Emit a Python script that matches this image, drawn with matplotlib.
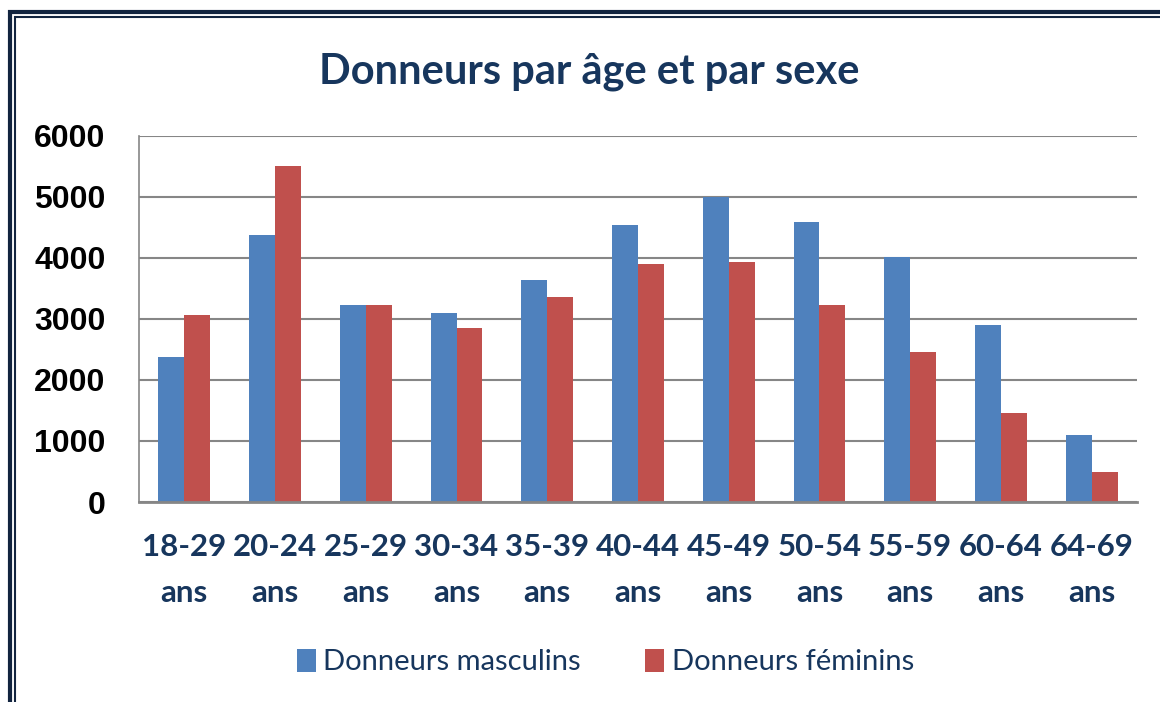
import matplotlib.pyplot as plt
import numpy as np
from matplotlib.patches import Rectangle

# données
categories = ['18-29\nans', '20-24\nans', '25-29\nans', '30-34\nans', '35-39\nans', '40-44\nans',
              '45-49\nans', '50-54\nans', '55-59\nans', '60-64\nans', '64-69\nans']
masculins = [2380, 4380, 3230, 3100, 3640, 4540, 5000, 4590, 4010, 2900, 1100]
feminins = [3070, 5510, 3230, 2850, 3360, 3900, 3930, 3230, 2460, 1460, 490]
yticks = [0, 1000, 2000, 3000, 4000, 5000, 6000]

navy = '#17365D'
blue = '#4F81BD'
red = '#C0504D'
grid_col = '#868686'

fig = plt.figure(figsize=(11.6, 7.02), dpi=100)
ax = fig.add_axes([0.1198, 0.2849, 0.8604, 0.5214])

x = np.arange(len(categories))
w = 0.286
ax.bar(x - w / 2, masculins, w, color=blue, label='Donneurs masculins', zorder=3)
ax.bar(x + w / 2, feminins, w, color=red, label='Donneurs féminins', zorder=3)

ax.set_xlim(-0.5, len(categories) - 0.5)
ax.set_ylim(0, 6000)
ax.set_yticks(yticks)
ax.set_yticklabels([str(v) for v in yticks], fontsize=23, fontweight='bold',
                   family='Liberation Sans', color='black')
ax.set_xticks(x)
ax.set_xticklabels(categories, fontsize=22.5, fontweight='bold', family='Lato',
                   color=navy, linespacing=1.8)
ax.tick_params(axis='y', length=0, pad=24)
ax.tick_params(axis='x', length=0, pad=22)

ax.grid(axis='y', color=grid_col, linewidth=1.5, zorder=0)
for s in ['top', 'right']:
    ax.spines[s].set_visible(False)
ax.spines['left'].set_color(grid_col)
ax.spines['left'].set_linewidth(1.2)
ax.spines['bottom'].set_color(grid_col)
ax.spines['bottom'].set_linewidth(2)
ax.spines['bottom'].set_zorder(4)

fig.text(0.508, 0.898, 'Donneurs par âge et par sexe', ha='center', va='center',
         fontsize=30, fontweight='bold', family='Lato', color=navy)

leg = fig.legend(loc='center', bbox_to_anchor=(0.522, 0.057), ncol=2, frameon=False,
                 prop={'family': 'Lato', 'size': 21}, handlelength=0.65, handleheight=0.85,
                 handletextpad=0.25, columnspacing=2.2)
for t in leg.get_texts():
    t.set_color(navy)

# cadre double autour du graphique
fig.patches.append(Rectangle((10 / 1160, -0.1), 1.2, 1 - 12 / 702 + 0.1, transform=fig.transFigure,
                             fill=False, edgecolor='#12243F', linewidth=3))
fig.patches.append(Rectangle((15 / 1160, -0.1), 1.2, 1 - 17 / 702 + 0.1, transform=fig.transFigure,
                             fill=False, edgecolor='#12243F', linewidth=1.5))

fig.savefig('out.png', dpi=100)
